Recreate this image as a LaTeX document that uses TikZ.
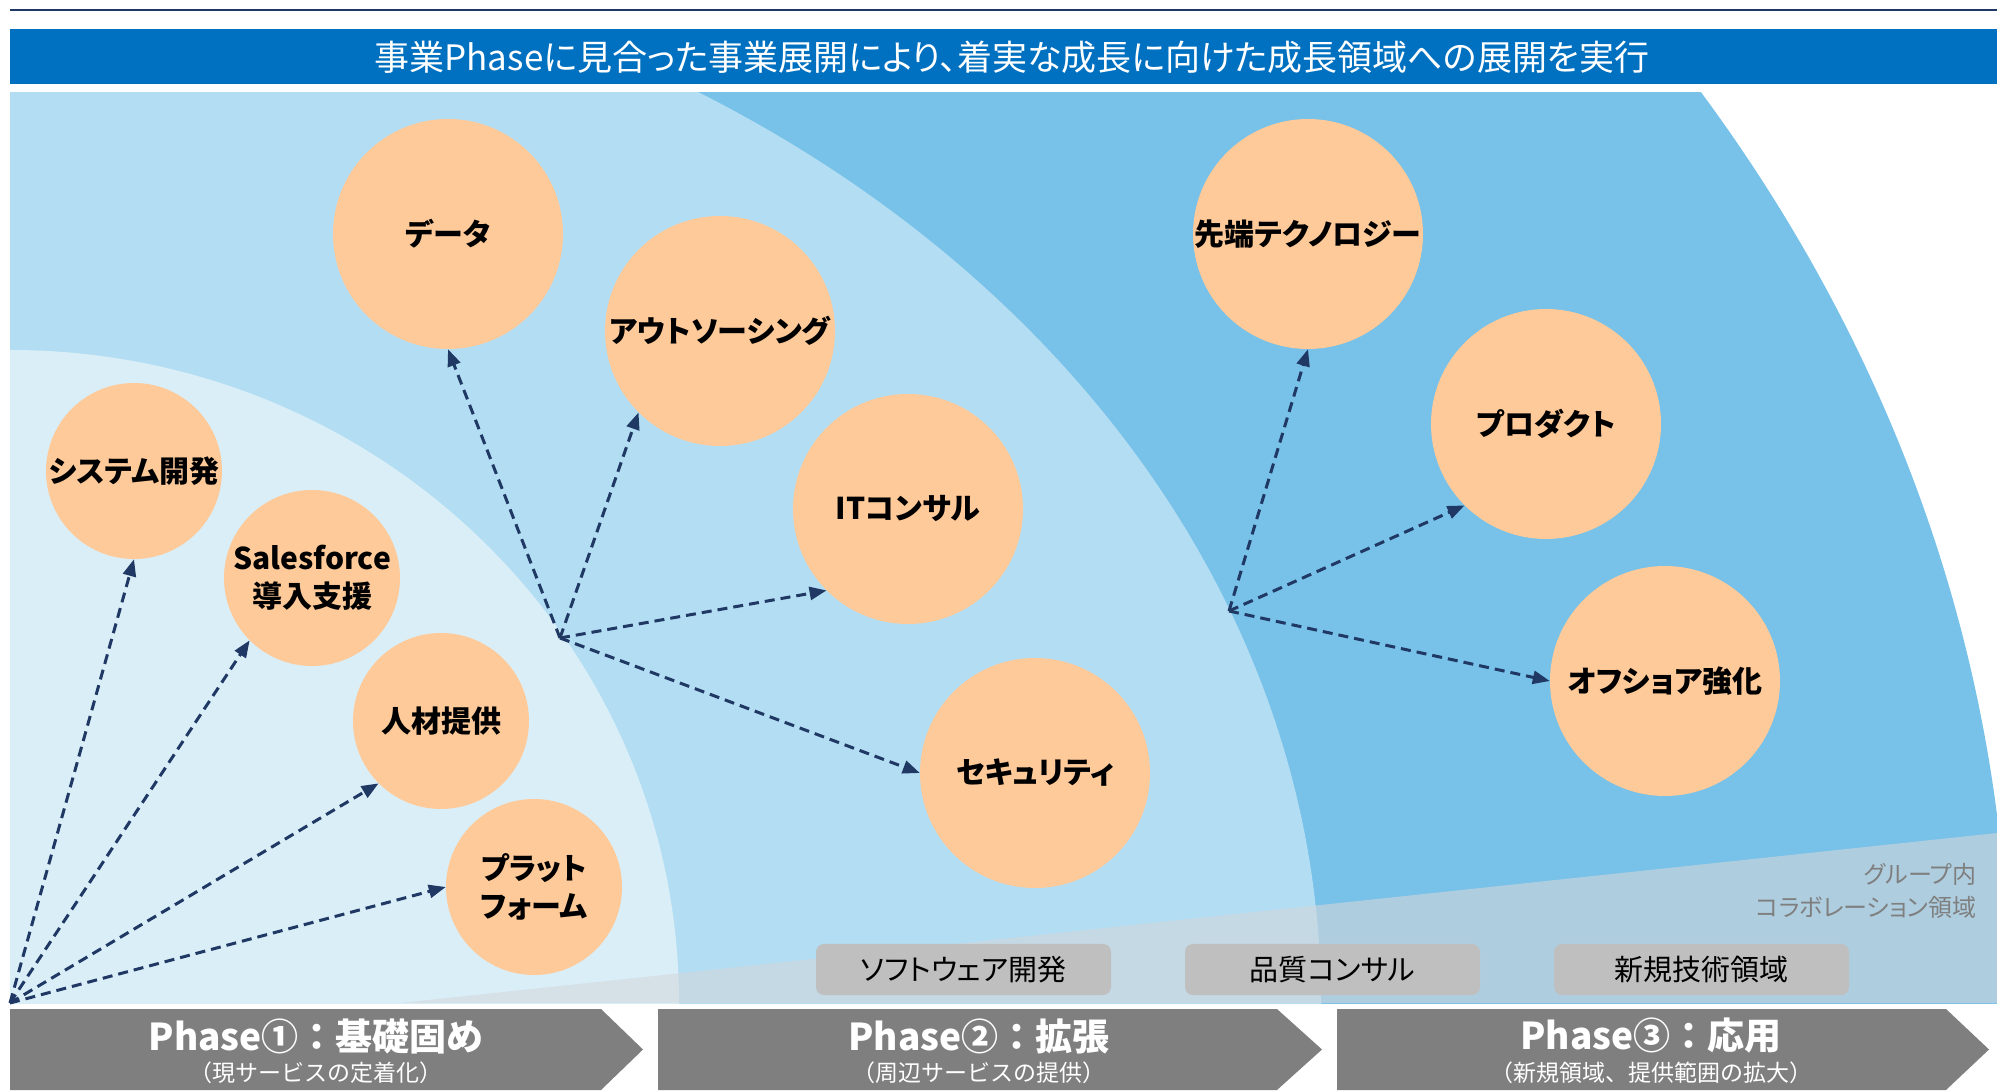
\documentclass[tikz,border=0pt]{standalone}
\usepackage{fontspec}
\setmainfont{Noto Sans CJK JP}[RawFeature=+palt]
\newfontfamily\fullwidth{Noto Sans CJK JP}
\usepackage{tikz}
\usetikzlibrary{arrows.meta}
\usetikzlibrary{positioning}
\definecolor{navy}{HTML}{1F3864}
\definecolor{banner}{HTML}{0070C0}
\definecolor{ringone}{HTML}{DAEEF8}
\definecolor{ringtwo}{HTML}{B3DDF2}
\definecolor{ringthree}{HTML}{78C1E8}
\definecolor{peach}{HTML}{FECA99}
\definecolor{bandgray}{HTML}{D2D7DC}
\definecolor{bargray}{HTML}{7F7F7F}
\definecolor{boxgray}{HTML}{BFBFBF}
\tikzset{
    bubble/.style={
           circle,
           fill=peach,
           minimum size=176pt,
           inner sep=0pt,
           align=center,
           text=black,
           font=\bfseries\fontsize{30}{38}\selectfont
           },
    bigbubble/.style={
           bubble,
           minimum size=230pt
           },
    tagbox/.style={
           rectangle,
           rounded corners=8pt,
           fill=boxgray,
           minimum width=295pt,
           minimum height=51pt,
           text=black,
           font=\fontsize{29}{35}\selectfont
           },
    phasetitle/.style={text=white, font=\bfseries\fontsize{37}{40}\selectfont},
    phasesub/.style={text=white, font=\fullwidth\fontsize{23}{28}\selectfont},
    link/.style={->, draw=navy, line width=3pt, dash pattern=on 10pt off 6pt},
}
\newcommand{\phasecolon}{\hspace{0.25em}：\hspace{0.25em}}

\begin{document}
\begin{tikzpicture}[x=1pt,y=1pt,>={Triangle[length=17pt,width=13pt]}]
\useasboundingbox (0,0) rectangle (1997,1090);

% top rule and banner
\draw[navy, line width=2.5pt] (10,1080) -- (1997,1080);
\fill[banner] (10,1006) rectangle (1997,1061);
\node[text=white, font=\fontsize{35}{40}\selectfont] (HEADLINE) at (1012,1033) {事業Phaseに見合った事業展開により、着実な成長に向けた成長領域への展開を実行};

% growth rings
\begin{scope}
\clip (10,87) rectangle (1997,997);
\fill[ringthree] (10,87) ellipse [x radius=1999pt, y radius=1707pt];
\fill[ringtwo] (10,87) ellipse [x radius=1311pt, y radius=1070pt];
\fill[ringone] (10,87) ellipse [x radius=669pt, y radius=653pt];
\fill[bandgray, opacity=0.6] (400,87) -- (1997,257) -- (1997,87) -- cycle;
\end{scope}

\node[anchor=east, align=right, text=bargray, font=\fontsize{24}{33}\selectfont] (GROUP) at (1980,199.5) {グループ内\\コラボレーション領域};

\node[tagbox] (SOFTWARE) at (963.5,120.5) {ソフトウェア開発};
\node[tagbox, right of=SOFTWARE, node distance=369pt, anchor=center] (QUALITY) {品質コンサル};
\node[tagbox, right of=QUALITY, node distance=369pt, anchor=center] (NEWTECH) {新規技術領域};

% Phase 1 circles
\node[bubble] (SYSTEM) at (134,619) {システム開発};
\node[bubble, right of=SYSTEM, node distance=178pt, yshift=-107pt, anchor=center] (SALESFORCE) {Salesforce\\導入支援};
\node[bubble, right of=SALESFORCE, node distance=129pt, yshift=-143pt, anchor=center] (STAFF) {人材提供};
\node[bubble, right of=STAFF, node distance=93pt, yshift=-166pt, anchor=center] (PLATFORM) {プラット\\フォーム};

% Phase 2 circles
\node[bigbubble] (DATA) at (448,856) {データ};
\node[bigbubble, right of=DATA, node distance=272pt, yshift=-97pt, anchor=center] (OUTSOURCING) {アウトソーシング};
\node[bigbubble, right of=OUTSOURCING, node distance=188pt, yshift=-178pt, anchor=center] (ITCONSULT) {ITコンサル};
\node[bigbubble, right of=ITCONSULT, node distance=127pt, yshift=-264pt, anchor=center] (SECURITY) {セキュリティ};

% Phase 3 circles
\node[bigbubble, right of=DATA, node distance=860pt, anchor=center] (ADVANCED) {先端テクノロジー};
\node[bigbubble, right of=ADVANCED, node distance=238pt, yshift=-190pt, anchor=center] (PRODUCT) {プロダクト};
\node[bigbubble, right of=PRODUCT, node distance=119pt, yshift=-257pt, anchor=center] (OFFSHORE) {オフショア強化};

\coordinate (FAN1) at (10,87);
\coordinate (FAN2) at (560,452);
\coordinate (FAN3) at (1229,479);

\path (FAN1) edge[link] (SYSTEM.270)
(FAN1) edge[link] (SALESFORCE.225)
(FAN1) edge[link] (STAFF.225)
(FAN1) edge[link] (PLATFORM.180)
(FAN2) edge[link] (DATA.270)
(FAN2) edge[link] (OUTSOURCING.225)
(FAN2) edge[link] (ITCONSULT.225)
(FAN2) edge[link] (SECURITY.180)
(FAN3) edge[link] (ADVANCED.270)
(FAN3) edge[link] (PRODUCT.225)
(FAN3) edge[link] (OFFSHORE.180)
;

% phase arrows
\fill[bargray] (10,81) -- (601,81) -- (643,40.5) -- (601,0) -- (10,0) -- cycle;
\fill[bargray] (658,81) -- (1277,81) -- (1322,40.5) -- (1277,0) -- (658,0) -- cycle;
\fill[bargray] (1337,81) -- (1946,81) -- (1989,40.5) -- (1946,0) -- (1337,0) -- cycle;

\node[phasetitle] (PHASE1) at (316,54) {Phase①\phasecolon 基礎固め};
\node[phasesub, below of=PHASE1, node distance=37pt, anchor=center] (PHASE1SUB) {（現サービスの定着化）};
\node[phasetitle] (PHASE2) at (979,54) {Phase②\phasecolon 拡張};
\node[phasesub, below of=PHASE2, node distance=37pt, anchor=center] (PHASE2SUB) {（周辺サービスの提供）};
\node[phasetitle] (PHASE3) at (1651,54) {Phase③\phasecolon 応用};
\node[phasesub, below of=PHASE3, node distance=37pt, anchor=center] (PHASE3SUB) {（新規領域、提供範囲の拡大）};

\end{tikzpicture}
\end{document}
